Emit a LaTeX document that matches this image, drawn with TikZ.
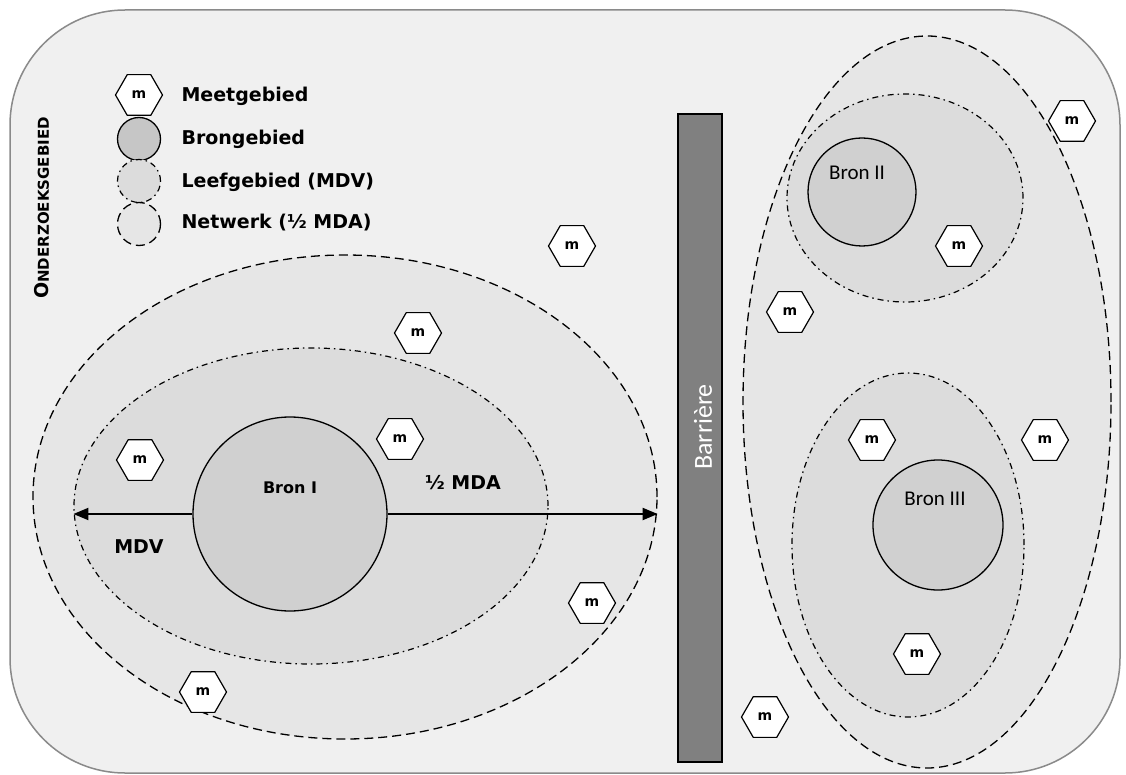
\documentclass[tikz,border=0pt]{standalone}
\usepackage{fontspec}
\setmainfont{DejaVu Sans}
\newfontfamily\carlito{Carlito}
\usetikzlibrary{shapes.geometric,arrows.meta}
\definecolor{bgfill}{HTML}{F0F0F0}
\definecolor{netfill}{HTML}{E6E6E6}
\definecolor{leeffill}{HTML}{DCDCDC}
\definecolor{bronfill}{HTML}{D0D0D0}
\definecolor{barfill}{HTML}{808080}
\definecolor{rimgray}{HTML}{8A8A8A}
\tikzset{
  hexm/.style={regular polygon, regular polygon sides=6,
    minimum size=47pt, inner sep=0pt, draw=black, line width=1.2pt, fill=white,
    font=\bfseries\fontsize{14}{14}\selectfont},
  bronst/.style={circle, draw=black, line width=1.3pt, fill=bronfill, inner sep=0pt},
  netst/.style={ellipse, draw=black, line width=1.3pt, dash pattern=on 9pt off 5pt, fill=netfill, inner sep=0pt},
  leefst/.style={ellipse, draw=black, line width=1.2pt, dash pattern=on 6pt off 4pt on 1.5pt off 4pt, fill=leeffill, inner sep=0pt},
  legtext/.style={anchor=west, font=\bfseries\fontsize{19}{21}\selectfont},
  bigtext/.style={font=\bfseries\fontsize{19}{21}\selectfont},
  carl/.style={font=\carlito\fontsize{21}{22}\selectfont},
  arr/.style={line width=2pt, -{Triangle[length=15pt,width=12pt]}}
}
\begin{document}
\begin{tikzpicture}[x=1pt,y=-1pt]
\useasboundingbox (0,0) rectangle (1126,775);
% outer study area
\draw[rimgray, line width=1.5pt, fill=bgfill, rounded corners=115pt] (10,10) rectangle (1120,773);
\node[rotate=90, font=\bfseries] (onderzoek) at (42,208) {{\fontsize{19}{20}\selectfont O}{\fontsize{15}{16}\selectfont NDERZOEKSGEBIED}};

% left group
\node[netst, minimum width=624pt, minimum height=484pt] (net1) at (345,497) {};
\node[leefst, minimum width=474pt, minimum height=316pt] (leef1) at (311,506) {};
\node[bronst, minimum size=194pt] (bron1) at (290,514) {};
\node[font=\bfseries\fontsize{16}{17}\selectfont] (tbron1) at (290,488) {Bron I};

% right group
\node[netst, minimum width=368pt, minimum height=732pt] (net2) at (927,402) {};
\node[leefst, minimum width=236pt, minimum height=208pt] (leef2) at (905,198) {};
\node[leefst, minimum width=232pt, minimum height=344pt] (leef3) at (908,545) {};
\node[bronst, minimum size=108pt] (bron2) at (862,192) {};
\node[bronst, minimum size=130pt] (bron3) at (938,525) {};
\node[carl] (tbron2) at (857,173) {Bron II};
\node[carl] (tbron3) at (935,499) {Bron III};

% barrier
\node[draw=black, line width=1.5pt, fill=barfill, minimum width=44pt, minimum height=648pt, inner sep=0pt] (barrier) at (700,438) {};
\node[rotate=90, text=white, font=\carlito\fontsize{26}{27}\selectfont] (tbarrier) at (703,427) {Barrière};

% arrows
\draw[arr] (bron1.west) -- (bron1.west -| leef1.west);
\draw[arr] (bron1.east) -- (bron1.east -| net1.east);
\node[bigtext] (mdv) at (139,547) {MDV};
\node[bigtext] (mda) at (463,483) {½ MDA};

% measurement areas
\node[hexm] (h1) at (572,246) {m};
\node[hexm] (h2) at (418,333) {m};
\node[hexm] (h3) at (400,439) {m};
\node[hexm] (h4) at (140,460) {m};
\node[hexm] (h5) at (592,603) {m};
\node[hexm] (h6) at (203,692) {m};
\node[hexm] (h7) at (1072,121) {m};
\node[hexm] (h8) at (959,246) {m};
\node[hexm] (h9) at (790,312) {m};
\node[hexm] (h10) at (872,440) {m};
\node[hexm] (h11) at (1045,440) {m};
\node[hexm] (h12) at (917,654) {m};
\node[hexm] (h13) at (765,717) {m};

% legend
\node[hexm] (lg1) at (139,95) {m};
\node[bronst, minimum size=43pt, fill=bronfill!95!black] (lg2) at (139,139) {};
\node[leefst, minimum width=43pt, minimum height=43pt] (lg3) at (139,181) {};
\node[netst, minimum width=43pt, minimum height=43pt] (lg4) at (139,224) {};
\node[legtext] (lt1) at (178,96) {Meetgebied};
\node[legtext] (lt2) at (178,139) {Brongebied};
\node[legtext] (lt3) at (178,182) {Leefgebied (MDV)};
\node[legtext] (lt4) at (178,223) {Netwerk (½ MDA)};
\end{tikzpicture}
\end{document}
